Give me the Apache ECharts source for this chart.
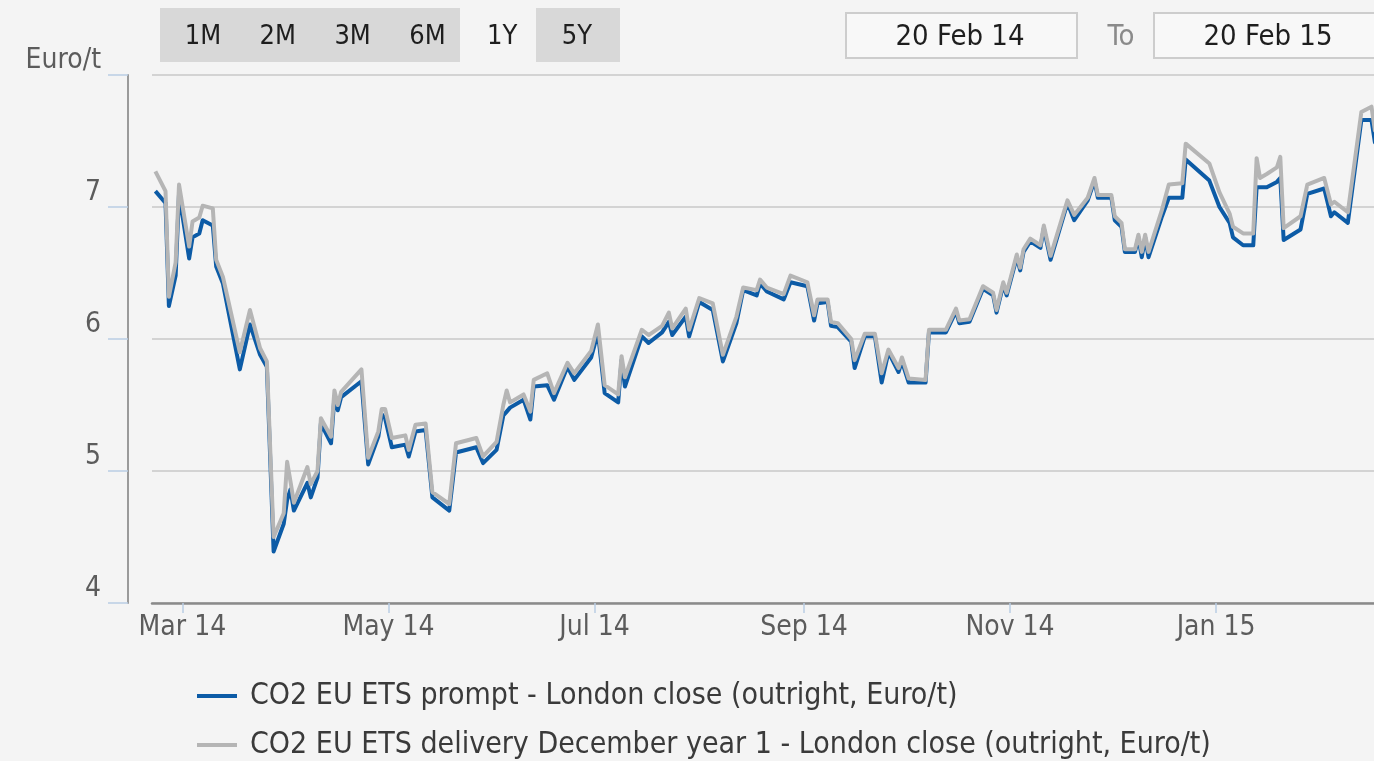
<!DOCTYPE html>
<html>
<head>
<meta charset="utf-8">
<title>CO2 EU ETS</title>
<script src="https://cdn.jsdelivr.net/npm/echarts@6/dist/echarts.min.js"></script>
<style>
  html, body { margin: 0; padding: 0; background: #f4f4f4; }
  #chart { width: 1374px; height: 761px; }
</style>
</head>
<body>
<div id="chart"></div>
<script>
  // trading dates shown in the chart
  const dates = [
    '2014-02-21','2014-02-24','2014-02-25','2014-02-27','2014-02-28',
    '2014-03-03','2014-03-04','2014-03-06','2014-03-07','2014-03-10',
    '2014-03-11','2014-03-13','2014-03-18','2014-03-21','2014-03-24',
    '2014-03-26','2014-03-28','2014-03-31','2014-04-01','2014-04-02',
    '2014-04-03','2014-04-07','2014-04-08','2014-04-10','2014-04-11',
    '2014-04-14','2014-04-15','2014-04-16','2014-04-17','2014-04-23',
    '2014-04-25','2014-04-28','2014-04-29','2014-04-30','2014-05-02',
    '2014-05-06','2014-05-07','2014-05-09','2014-05-12','2014-05-14',
    '2014-05-19','2014-05-21','2014-05-27','2014-05-29','2014-06-02',
    '2014-06-04','2014-06-05','2014-06-06','2014-06-10','2014-06-12',
    '2014-06-13','2014-06-17','2014-06-19','2014-06-23','2014-06-25',
    '2014-06-30','2014-07-02','2014-07-04','2014-07-08','2014-07-09',
    '2014-07-10','2014-07-15','2014-07-17','2014-07-21','2014-07-23',
    '2014-07-24','2014-07-28','2014-07-29','2014-08-01','2014-08-05',
    '2014-08-08','2014-08-12','2014-08-14','2014-08-18','2014-08-19',
    '2014-08-21','2014-08-26','2014-08-28','2014-09-02','2014-09-04',
    '2014-09-05','2014-09-08','2014-09-09','2014-09-11','2014-09-15',
    '2014-09-16','2014-09-19','2014-09-22','2014-09-24','2014-09-26',
    '2014-09-29','2014-09-30','2014-10-02','2014-10-07','2014-10-08',
    '2014-10-13','2014-10-16','2014-10-17','2014-10-20','2014-10-24',
    '2014-10-27','2014-10-28','2014-10-30','2014-10-31','2014-11-03',
    '2014-11-04','2014-11-05','2014-11-07','2014-11-10','2014-11-11',
    '2014-11-13','2014-11-18','2014-11-20','2014-11-24','2014-11-26',
    '2014-11-27','2014-12-01','2014-12-02','2014-12-04','2014-12-05',
    '2014-12-08','2014-12-09','2014-12-10','2014-12-11','2014-12-12',
    '2014-12-16','2014-12-18','2014-12-22','2014-12-23','2014-12-30',
    '2015-01-02','2015-01-05','2015-01-06','2015-01-09','2015-01-12',
    '2015-01-13','2015-01-14','2015-01-16','2015-01-19','2015-01-20',
    '2015-01-21','2015-01-26','2015-01-28','2015-02-02','2015-02-04',
    '2015-02-05','2015-02-09','2015-02-13','2015-02-16','2015-02-17',
    '2015-02-18','2015-02-19'
  ];

  // CO2 EU ETS prompt - London close
  const promptValues = [
    7.12, 7.03, 6.25, 6.48, 7.10,
    6.61, 6.77, 6.80, 6.90, 6.86,
    6.55, 6.42, 5.77, 6.11, 5.88,
    5.79, 4.39, 4.60, 4.78, 4.86,
    4.70, 4.91, 4.80, 4.95, 5.36,
    5.21, 5.56, 5.46, 5.56, 5.68,
    5.05, 5.26, 5.43, 5.40, 5.18,
    5.20, 5.11, 5.30, 5.31, 4.80,
    4.70, 5.14, 5.18, 5.06, 5.16,
    5.42, 5.45, 5.48, 5.54, 5.39,
    5.64, 5.65, 5.54, 5.79, 5.69,
    5.86, 6.05, 5.59, 5.52, 5.84,
    5.64, 6.02, 5.97, 6.05, 6.13,
    6.03, 6.17, 6.02, 6.28, 6.22,
    5.83, 6.12, 6.37, 6.33, 6.42,
    6.36, 6.30, 6.43, 6.40, 6.14,
    6.27, 6.28, 6.10, 6.09, 5.98,
    5.78, 6.02, 6.02, 5.67, 5.90,
    5.75, 5.83, 5.67, 5.67, 6.05,
    6.05, 6.21, 6.12, 6.13, 6.38,
    6.33, 6.20, 6.41, 6.33, 6.62,
    6.52, 6.66, 6.74, 6.69, 6.84,
    6.60, 7.03, 6.90, 7.05, 7.20,
    7.07, 7.07, 6.90, 6.85, 6.66,
    6.66, 6.77, 6.62, 6.77, 6.62,
    6.93, 7.07, 7.07, 7.36, 7.20,
    7.00, 6.88, 6.77, 6.71, 6.71,
    7.15, 7.15, 7.15, 7.19, 7.22,
    6.75, 6.83, 7.10, 7.14, 6.93,
    6.96, 6.88, 7.66, 7.66, 7.49,
    7.47, 7.45
  ];

  // CO2 EU ETS delivery December year 1 - London close
  const decValues = [
    7.27, 7.12, 6.32, 6.58, 7.17,
    6.70, 6.89, 6.92, 7.01, 6.99,
    6.60, 6.47, 5.90, 6.22, 5.93,
    5.83, 4.50, 4.68, 5.07, 4.92,
    4.76, 5.03, 4.90, 5.00, 5.40,
    5.26, 5.61, 5.50, 5.60, 5.77,
    5.10, 5.30, 5.47, 5.47, 5.25,
    5.27, 5.16, 5.35, 5.36, 4.84,
    4.75, 5.21, 5.25, 5.11, 5.22,
    5.50, 5.61, 5.52, 5.58, 5.45,
    5.69, 5.74, 5.59, 5.82, 5.74,
    5.91, 6.11, 5.65, 5.58, 5.87,
    5.71, 6.07, 6.03, 6.10, 6.20,
    6.08, 6.23, 6.07, 6.31, 6.27,
    5.88, 6.17, 6.39, 6.37, 6.45,
    6.39, 6.34, 6.48, 6.43, 6.18,
    6.30, 6.30, 6.13, 6.12, 6.00,
    5.84, 6.04, 6.04, 5.74, 5.92,
    5.78, 5.86, 5.70, 5.69, 6.07,
    6.07, 6.23, 6.14, 6.15, 6.40,
    6.35, 6.22, 6.43, 6.35, 6.64,
    6.54, 6.68, 6.76, 6.71, 6.86,
    6.63, 7.05, 6.94, 7.07, 7.22,
    7.09, 7.09, 6.93, 6.88, 6.68,
    6.68, 6.79, 6.66, 6.79, 6.66,
    6.98, 7.17, 7.18, 7.48, 7.33,
    7.11, 6.95, 6.85, 6.80, 6.80,
    7.37, 7.22, 7.25, 7.30, 7.38,
    6.84, 6.93, 7.17, 7.22, 7.02,
    7.04, 6.96, 7.72, 7.76, 7.58,
    7.55, 7.52
  ];

  const seriesNames = [
    'CO2 EU ETS prompt - London close (outright, Euro/t)',
    'CO2 EU ETS delivery December year 1 - London close (outright, Euro/t)'
  ];
  const tickDates = ['2014-03-01', '2014-05-01', '2014-07-01', '2014-09-01', '2014-11-01', '2015-01-01'];
  const tickLabels = ['Mar 14', 'May 14', 'Jul 14', 'Sep 14', 'Nov 14', 'Jan 15'];
  const rangeButtons = ['1M', '2M', '3M', '6M', '1Y', '5Y'];
  const fromDate = '20 Feb 14';
  const toDate = '20 Feb 15';

  const FONT = "'DejaVu Sans Condensed', 'DejaVu Sans', sans-serif";

  function toTime(s) {
    const p = s.split('-');
    return new Date(+p[0], +p[1] - 1, +p[2]).getTime();
  }
  const tickTimes = tickDates.map(toTime);

  const chart = echarts.init(document.getElementById('chart'));

  const buttonGraphics = [];
  buttonGraphics.push({ type: 'rect', shape: { x: 160, y: 8, width: 300, height: 54 }, style: { fill: '#d8d8d8' } });
  buttonGraphics.push({ type: 'rect', shape: { x: 536, y: 8, width: 84, height: 54 }, style: { fill: '#d8d8d8' } });
  rangeButtons.forEach(function (b, i) {
    buttonGraphics.push({
      type: 'text', x: 203 + i * 74.8, y: 37,
      style: { text: b, font: '27px ' + FONT, fill: '#1e1e1e', align: 'center', verticalAlign: 'middle' }
    });
  });

  const option = {
    backgroundColor: '#f4f4f4',
    animation: false,
    textStyle: { fontFamily: FONT },
    graphic: buttonGraphics.concat([
      { type: 'rect', shape: { x: 846, y: 13, width: 231, height: 45 }, style: { fill: '#f8f8f8', stroke: '#cdcdcd', lineWidth: 2 } },
      { type: 'text', x: 960, y: 37, style: { text: fromDate, font: '29px ' + FONT, fill: '#1e1e1e', align: 'center', verticalAlign: 'middle' } },
      { type: 'text', x: 1121, y: 37, style: { text: 'To', font: '29px ' + FONT, fill: '#8a8a8a', align: 'center', verticalAlign: 'middle' } },
      { type: 'rect', shape: { x: 1154, y: 13, width: 240, height: 45 }, style: { fill: '#f8f8f8', stroke: '#cdcdcd', lineWidth: 2 } },
      { type: 'text', x: 1268, y: 37, style: { text: toDate, font: '29px ' + FONT, fill: '#1e1e1e', align: 'center', verticalAlign: 'middle' } }
    ]),
    grid: {
      left: 152,
      top: 75,
      width: 1233,
      height: 528,
      outerBoundsMode: 'none'
    },
    legend: {
      orient: 'vertical',
      left: 197,
      top: 681,
      height: 80,
      padding: 0,
      icon: 'rect',
      itemWidth: 40,
      itemHeight: 4,
      itemGap: 19,
      textStyle: { fontSize: 30, lineHeight: 30, color: '#3a3a3a', fontFamily: FONT, padding: [0, 0, 0, 8] },
      data: seriesNames
    },
    xAxis: {
      type: 'value',
      min: toTime('2014-02-20'),
      max: toTime('2015-02-20'),
      axisLine: { show: true, lineStyle: { color: '#8a8a8a', width: 2.5 } },
      axisTick: { show: true, length: 10, lineStyle: { color: '#b9cde3', width: 1.5 }, customValues: tickTimes },
      axisLabel: {
        fontSize: 28,
        color: '#5c5c5c',
        margin: 11,
        customValues: tickTimes,
        formatter: function (v) {
          const i = tickTimes.indexOf(v);
          return i >= 0 ? tickLabels[i] : '';
        }
      },
      splitLine: { show: false }
    },
    yAxis: {
      type: 'value',
      min: 4,
      max: 8,
      interval: 1,
      offset: 24,
      axisLine: { show: true, lineStyle: { color: '#9a9a9a', width: 2 } },
      axisTick: { show: true, length: 20, lineStyle: { color: '#b9cde3', width: 1.5 } },
      axisLabel: {
        fontSize: 28,
        color: '#5c5c5c',
        margin: 27,
        verticalAlign: 'bottom',
        padding: [0, 0, 0, 0],
        formatter: function (v) { return v === 8 ? 'Euro/t' : String(v); }
      },
      splitLine: { show: true, lineStyle: { color: '#c9c9c9', width: 1.5 } }
    },
    series: [
      {
        name: seriesNames[0],
        type: 'line',
        symbol: 'none',
        data: dates.map(function (d, i) { return [toTime(d), promptValues[i]]; }),
        lineStyle: { color: '#0c5ba6', width: 4, join: 'round' },
        itemStyle: { color: '#0c5ba6' },
        z: 2
      },
      {
        name: seriesNames[1],
        type: 'line',
        symbol: 'none',
        data: dates.map(function (d, i) { return [toTime(d), decValues[i]]; }),
        lineStyle: { color: '#b5b5b5', width: 4, join: 'round' },
        itemStyle: { color: '#b5b5b5' },
        z: 3
      }
    ]
  };

  chart.setOption(option);
</script>
</body>
</html>
